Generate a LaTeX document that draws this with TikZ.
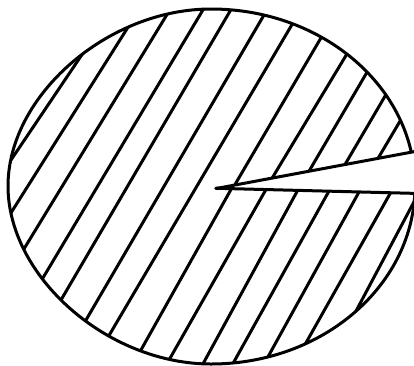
\documentclass[tikz,border=0pt]{standalone}
\begin{document}
\begin{tikzpicture}[x=1pt,y=-1pt,
  outline/.style={line width=3pt,line join=round},
  hatch/.style={line width=3pt,line cap=round,shorten <=-4pt,shorten >=-4pt},
  wedgeedge/.style={line width=3pt,line cap=round},
  wedgefill/.style={fill=white,draw=none}]
\useasboundingbox[fill=white] (0,0) rectangle (414,365);
\def\boundary{(415,186) .. controls (415,88.3) and (323.6,9) .. (211,9)
 .. controls (107.5,9) and (8,95.7) .. (8,186)
 .. controls (8,276.8) and (107.5,364) .. (211,364)
 .. controls (323.6,364) and (415,284.3) .. (415,186) -- cycle}
\draw[outline] \boundary;
\begin{scope}
\clip \boundary;
\draw[hatch] (81.7,55) -- (13,157);
\draw[hatch] (128.3,26.7) -- (11.7,211.7);
\draw[hatch] (166.7,15) -- (23.3,250);
\draw[hatch] (203.3,9.3) -- (41.7,280);
\draw[hatch] (230.7,10) -- (60,301.7);
\draw[hatch] (264,15) -- (85,321.7);
\draw[hatch] (292.3,24) -- (108.3,336.7);
\draw[hatch] (320.7,38.3) -- (235.7,183.3);
\draw[hatch] (230.7,190) -- (140,351.7);
\draw[hatch] (347.3,53.3) -- (274,175);
\draw[hatch] (265.7,190) -- (170,358.3);
\draw[hatch] (367.3,71.7) -- (310.7,168.3);
\draw[hatch] (297.3,191) -- (203.3,363.3);
\draw[hatch] (385.7,95) -- (345.7,163.3);
\draw[hatch] (329,191) -- (234,361.7);
\draw[hatch] (400.7,120) -- (379,156.7);
\draw[hatch] (359,192) -- (269,355);
\draw[hatch] (390.7,192.5) -- (305.7,343.3);
\draw[hatch] (416,198) -- (355.7,311.7);
\end{scope}
\coordinate (apex) at (217.3,188.3);
\coordinate (up) at (416,151.3);
\coordinate (lo) at (416,193.4);
\fill[wedgefill] (apex) -- (up) -- (430,148.7) -- (430,193.8) -- (lo) -- cycle;
\draw[wedgeedge] (apex) -- (up);
\draw[wedgeedge] (apex) -- (lo);
\fill (apex) ellipse (3pt and 1.8pt);
\end{tikzpicture}
\end{document}
